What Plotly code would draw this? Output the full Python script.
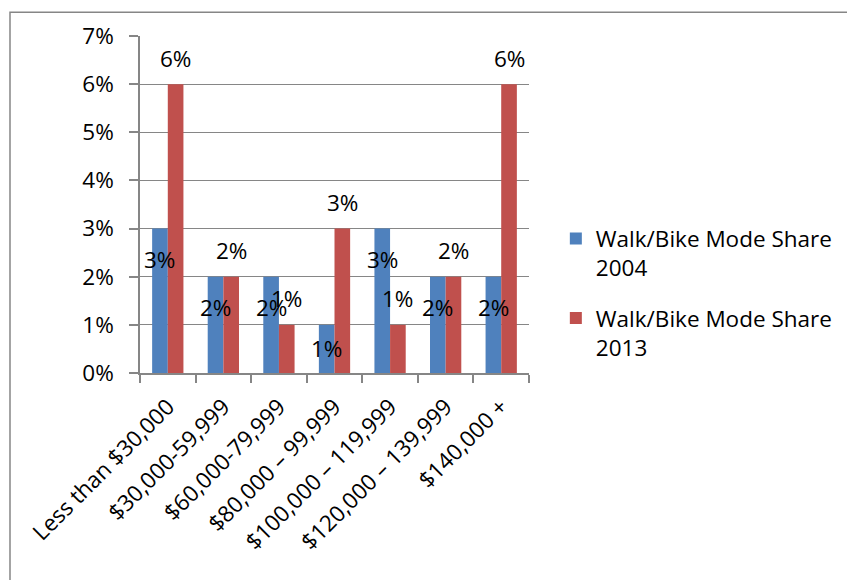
import plotly.graph_objects as go

# Household income categories and walk/bike mode share (%)
categories = ['Less than $30,000', '$30,000-59,999', '$60,000-79,999',
              '$80,000 \u2013 99,999', '$100,000 \u2013 119,999',
              '$120,000 \u2013 139,999', '$140,000 +']
share_2004 = [3, 2, 2, 1, 3, 2, 2]
share_2013 = [6, 2, 1, 3, 1, 2, 6]
series_names = ['Walk/Bike Mode Share<br>2004', 'Walk/Bike Mode Share<br>2013']
y_ticks = [0, 1, 2, 3, 4, 5, 6, 7]

BLUE = '#4F81BD'
RED = '#C0504D'
GREY = '#868686'
FONT = 'Open Sans, Calibri, sans-serif'
FS = 22.5

fig = go.Figure()
fig.add_trace(go.Bar(x=categories, y=share_2004, name=series_names[0],
                     legendgroup='a', marker=dict(color=BLUE, line=dict(width=0))))
fig.add_trace(go.Bar(x=categories, y=share_2013, name=series_names[1],
                     legendgroup='b', marker=dict(color=RED, line=dict(width=0))))

# data labels: 2004 inside the bar top, 2013 above the bar
annotations = []
for cat, v in zip(categories, share_2004):
    annotations.append(dict(x=cat, y=max(v - 0.64, v / 2), xref='x', yref='y',
                            text=f'{v}%', showarrow=False, xshift=-7.8,
                            font=dict(family=FONT, size=FS, color='black')))
for cat, v in zip(categories, share_2013):
    annotations.append(dict(x=cat, y=v + 0.54, xref='x', yref='y',
                            text=f'{v}%', showarrow=False, xshift=7.8,
                            font=dict(family=FONT, size=FS, color='black')))

fig.update_layout(
    width=855, height=580,
    margin=dict(l=132, r=334, t=25, b=215),
    paper_bgcolor='white', plot_bgcolor='white',
    font=dict(family=FONT, size=FS, color='black'),
    barmode='group', bargap=0.437, bargroupgap=0,
    annotations=annotations,
    legend=dict(x=1.069, y=0.462, xanchor='left', yanchor='top',
                valign='top', traceorder='grouped', tracegroupgap=18,
                font=dict(family=FONT, size=FS, color='black')),
    shapes=[dict(type='rect', xref='paper', yref='paper',
                 x0=-0.3342, x1=2, y0=-1, y1=1.0706,
                 line=dict(color=GREY, width=1.5), layer='below')],
)
fig.update_xaxes(showgrid=False, showline=True, linecolor=GREY, linewidth=1.5,
                 ticks='outside', tickson='boundaries', ticklen=8,
                 tickcolor=GREY, tickwidth=1.5, tickangle=-45,
                 ticklabelstandoff=10)
fig.update_yaxes(range=[0, 7], tickvals=y_ticks,
                 ticktext=[f'{t}%' for t in y_ticks],
                 showgrid=True, gridcolor=GREY, gridwidth=1.2,
                 showline=True, linecolor=GREY, linewidth=1.5,
                 ticks='outside', ticklen=9, tickcolor=GREY, tickwidth=1.5,
                 ticklabelstandoff=11, zeroline=False)

fig.write_html('out.html')
